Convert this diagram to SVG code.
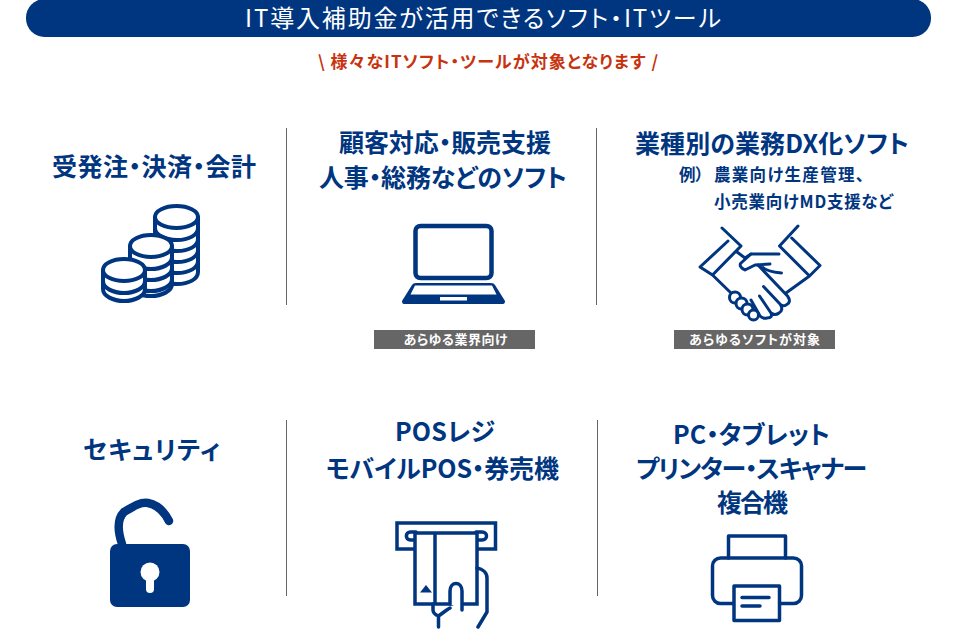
<svg xmlns="http://www.w3.org/2000/svg" width="960" height="629" viewBox="0 0 960 629">
<style>
text{font-family:"Noto Sans CJK JP","Noto Sans",sans-serif;font-weight:700;text-anchor:middle;fill:#003580;font-feature-settings:"palt"}
.t{font-size:25px}
.s{font-size:16.500px;text-anchor:start}
.tag{font-size:13px;fill:#fff}
.sep{stroke:#666;stroke-width:1;fill:none}
.ic{fill:none;stroke:#003580;stroke-linecap:round;stroke-linejoin:round}
.w{fill:#fff}
.n{fill:#003580;stroke:none}
</style>
<rect width="960" height="629" fill="#fff"/>
<g id="header">
<rect x="26" y="-1" width="905" height="38" rx="18.500" fill="#003580"/>
<text x="483" y="27" style="font-size:24px;font-weight:400;fill:#fff" textLength="476" lengthAdjust="spacing">IT導入補助金が活用できるソフト・ITツール</text>
<text x="488" y="68" style="font-size:17px;fill:#c8330f" textLength="340" lengthAdjust="spacing">\ 様々なITソフト・ツールが対象となります /</text>
</g>
<g id="connectors">
<line class="sep" x1="286.500" y1="128" x2="286.500" y2="305"/>
<line class="sep" x1="596.500" y1="128" x2="596.500" y2="305"/>
<line class="sep" x1="286.500" y1="420" x2="286.500" y2="596"/>
<line class="sep" x1="597.500" y1="420" x2="597.500" y2="596"/>
</g>
<g id="node-payment">
<text class="t" x="154" y="175.500" textLength="204" lengthAdjust="spacing">受発注・決済・会計</text>
<g class="ic" stroke-width="4">
<path class="w" d="M155 217V272C155 279 165 284 177 284S198 279 198 272V217Z"/>
<path d="M155 228C155 235 165 240 177 240S198 235 198 228M155 239C155 246 165 251 177 251S198 246 198 239M155 250C155 257 165 262 177 262S198 257 198 250M155 261C155 268 165 273 177 273S198 268 198 261"/>
<ellipse class="w" cx="176.500" cy="217" rx="21.500" ry="11"/>
<path class="w" d="M130 246V284C130 291 140 296 151 296S172 291 172 284V246Z"/>
<path d="M130 257C130 264 140 269 151 269S172 264 172 257M130 268C130 275 140 280 151 280S172 275 172 268M130 279C130 286 140 291 151 291S172 286 172 279"/>
<ellipse class="w" cx="151" cy="246" rx="21" ry="11"/>
<path class="w" d="M103 270V289C103 296 113 301 124 301S145 296 145 289V270Z"/>
<path d="M103 281C103 288 113 293 124 293S145 288 145 281"/>
<ellipse class="w" cx="124" cy="270" rx="21" ry="11"/>
</g>
</g>
<g id="node-sales">
<text class="t" x="445" y="152" textLength="212" lengthAdjust="spacing">顧客対応・販売支援</text>
<text class="t" x="443" y="187" textLength="248" lengthAdjust="spacing">人事・総務などのソフト</text>
<rect class="ic" stroke-width="4.500" x="415.500" y="226" width="76" height="52" rx="5"/>
<path class="n" d="M416 283H491Q494 283 495 285L505 301Q505 304 503 304H404Q402 304 402 301L412 285Q413 283 416 283Z"/>
<path class="w" d="M415 285.500H492L496.500 294.500H410.500Z"/>
<rect class="w" x="440" y="297" width="27" height="3.500"/>
<rect x="374" y="330" width="161" height="19" fill="#666"/>
<text class="tag" x="455.500" y="344" textLength="104" lengthAdjust="spacing">あらゆる業界向け</text>
</g>
<g id="node-industry">
<text class="t" x="772" y="153" textLength="274" lengthAdjust="spacing">業種別の業務DX化ソフト</text>
<text class="s" x="679" y="181">例）</text>
<text class="s" x="714" y="181" textLength="150" lengthAdjust="spacing">農業向け生産管理、</text>
<text class="s" x="714" y="208" textLength="179" lengthAdjust="spacing">小売業向けMD支援など</text>
<g class="ic" stroke-width="3">
<path d="M722 228L741 246L712.500 275L700 267L728 241M712.500 275L731 293"/>
<path d="M798 226L779.500 246L809.500 276L820 265.500L791.700 238M809.500 276L786 293"/>
<path d="M737 252L745 258L751 254H779"/>
<path d="M751 254L740.500 263.500Q739 267 745 270L755 265L770 264M760 265Q766 272 781.500 273"/>
<path d="M758 265L787.500 296Q792 302 786 305Q783 307 780 304L763.500 286.500M780 304Q784 310 779 313Q775 316 771 313L759.500 296M771 313Q773 318 767 318Q763 319 760 316L751 300"/>
<circle class="w" cx="735" cy="297.500" r="5.500"/>
<circle class="w" cx="741.500" cy="303.500" r="5.500"/>
<circle class="w" cx="747.500" cy="309.500" r="5.500"/>
<circle class="w" cx="753.500" cy="315" r="5"/>
</g>
<rect x="674" y="330" width="161" height="19" fill="#666"/>
<text class="tag" x="754.500" y="344" textLength="131" lengthAdjust="spacing">あらゆるソフトが対象</text>
</g>
<g id="node-security">
<text class="t" x="151.500" y="459" textLength="137" lengthAdjust="spacing">セキュリティ</text>
<path class="ic" stroke-width="8.500" d="M122 544C118 532 116 520 124 512C134 506 140 502 148 503C158 505 165 513 169 521"/>
<rect class="n" x="110" y="544" width="80" height="63" rx="7"/>
<circle class="w" cx="150" cy="572" r="9.500"/>
<path class="ic" style="stroke:#fff" stroke-width="8" d="M150 575V589"/>
</g>
<g id="node-pos">
<text class="t" x="445" y="441" textLength="100" lengthAdjust="spacing">POSレジ</text>
<text class="t" x="442.500" y="478" textLength="233" lengthAdjust="spacing">モバイルPOS・券売機</text>
<g class="ic" stroke-width="3.500" style="stroke-linecap:butt;stroke-linejoin:miter">
<rect x="397" y="523" width="98.500" height="26"/>
<path style="stroke-linecap:round" d="M416 532H410.500C405 532 405 540 410.500 540H416M476 532H482C488 532 488 540 482 540H476"/>
<rect class="w" x="415" y="533" width="62" height="71"/>
<path d="M435 533V604"/>
<path class="n" d="M420 592.500H432L426 585Z"/>
<path class="w" style="stroke-linecap:round;stroke-linejoin:round" d="M450 604V591C450 581 462 581 462 591V610"/>
<path style="stroke-linecap:round;stroke-linejoin:round" d="M433 604V610C433 613 436 615 438.500 616C443 613 446 610 450 608M438.500 616V627M477 568C483 569 487 573 487 578V612L478 627"/>
</g>
</g>
<g id="node-devices">
<text class="t" x="751.500" y="444" textLength="157" lengthAdjust="spacing">PC・タブレット</text>
<text class="t" x="751.500" y="478" textLength="231" lengthAdjust="spacing">プリンター・スキャナー</text>
<text class="t" x="752.500" y="512" textLength="71" lengthAdjust="spacing">複合機</text>
<g class="ic" stroke-width="3.500">
<path d="M728.500 558V536H785.500V558"/>
<rect x="712.500" y="558" width="89" height="45.500" rx="8"/>
<rect class="w" x="734" y="586" width="45.500" height="34.500"/>
<path d="M742 597.500H769M742 606H760"/>
</g>
</g>
</svg>
